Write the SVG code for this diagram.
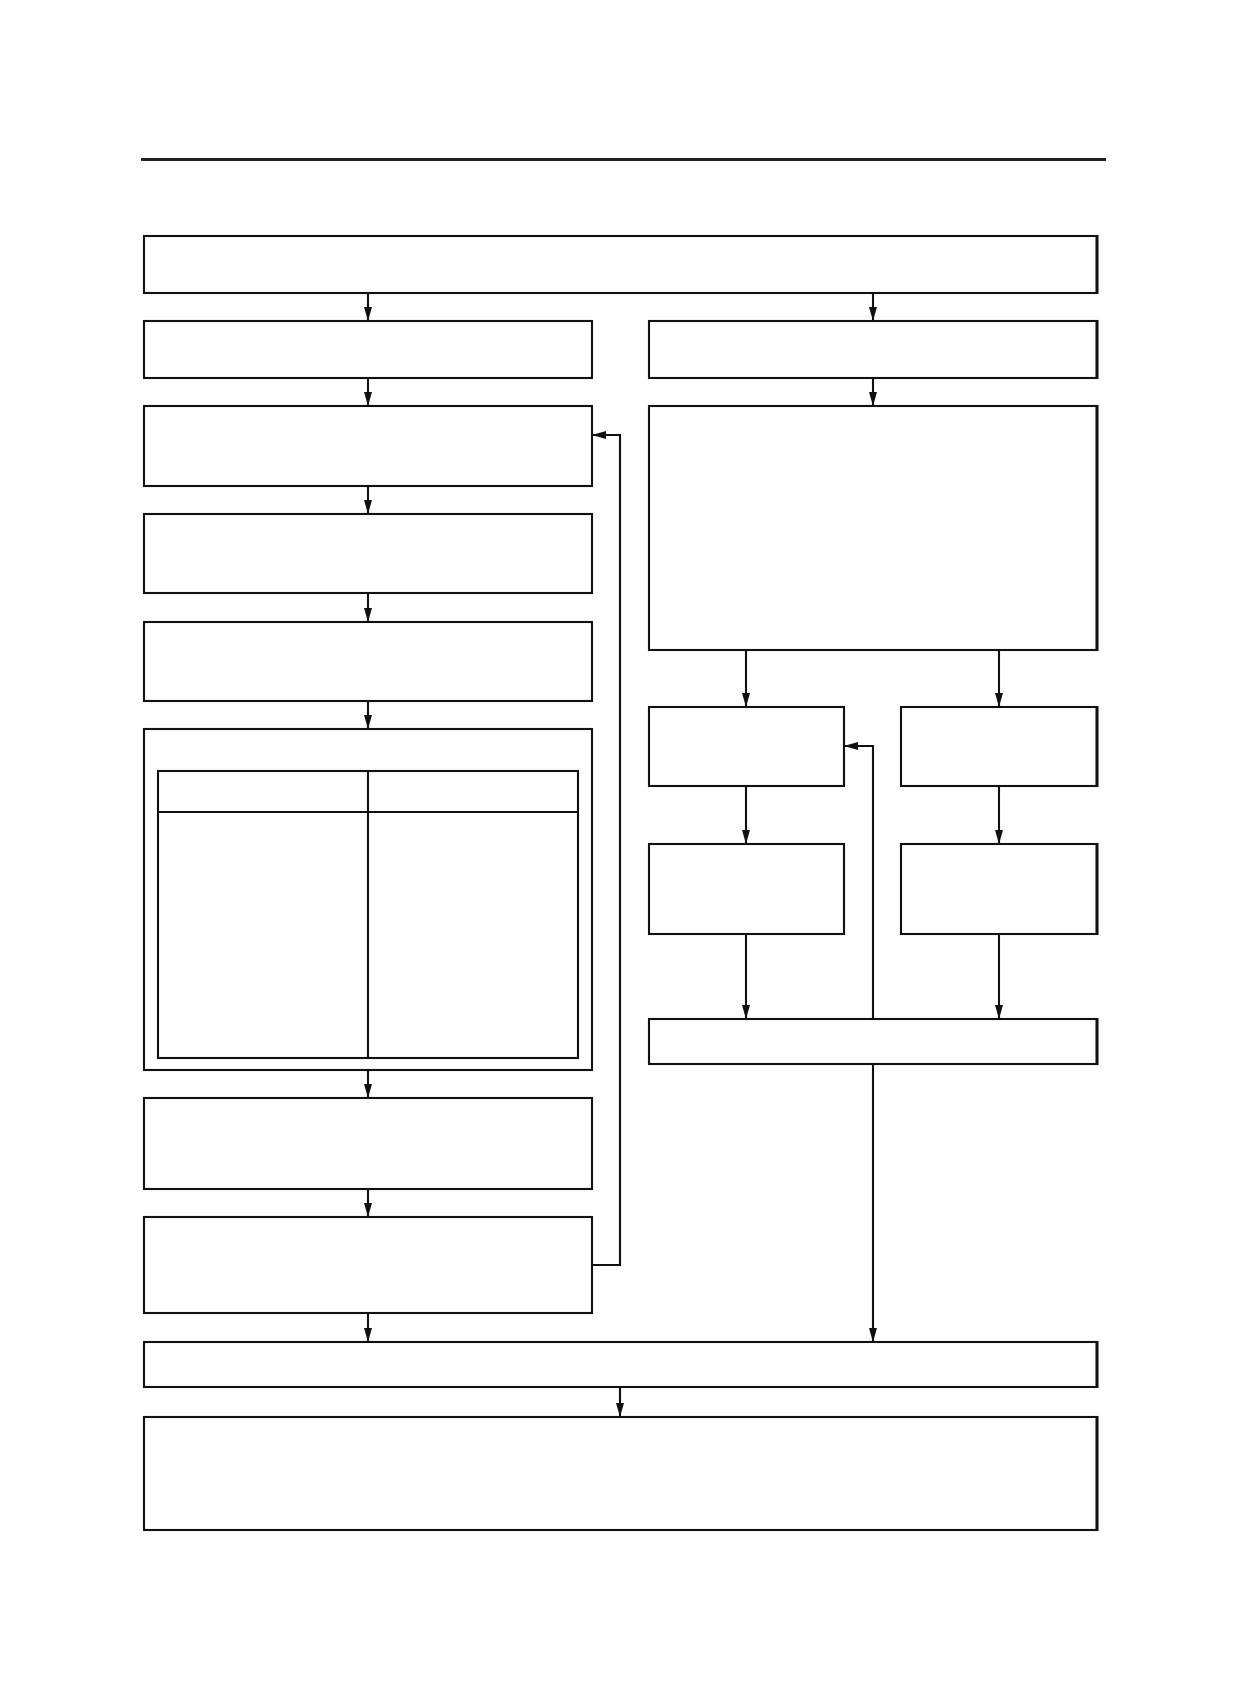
<svg xmlns="http://www.w3.org/2000/svg" width="1247" height="1701" viewBox="0 0 1247 1701">
<style>
.box{fill:#fff;stroke:#111;stroke-width:2.1}
.tbl{fill:none;stroke:#111;stroke-width:2.1}
.conn{fill:none;stroke:#111;stroke-width:2.1}
.edge{stroke:#111;stroke-width:3}
.arr{marker-end:url(#ah)}
</style>
<defs>
<marker id="ah" markerUnits="userSpaceOnUse" markerWidth="16" markerHeight="9" refX="14" refY="4" orient="auto">
<path d="M0,0 L14,4 L0,8 z" fill="#111"/>
</marker>
</defs>
<rect x="0" y="0" width="1247" height="1701" fill="#fff"/>
<line x1="141" y1="159.5" x2="1106" y2="159.5" stroke="#222" stroke-width="3"/>
<g id="n_top"><rect class="box" x="144" y="236" width="953" height="57"/><line class="edge" x1="1097" y1="235" x2="1097" y2="294"/></g>
<g id="n_l2"><rect class="box" x="144" y="321" width="448" height="57"/></g>
<g id="n_r2"><rect class="box" x="649" y="321" width="448" height="57"/><line class="edge" x1="1097" y1="320" x2="1097" y2="379"/></g>
<g id="n_l3"><rect class="box" x="144" y="406" width="448" height="80"/></g>
<g id="n_r3"><rect class="box" x="649" y="406" width="448" height="244"/><line class="edge" x1="1097" y1="405" x2="1097" y2="651"/></g>
<g id="n_l4"><rect class="box" x="144" y="514" width="448" height="79"/></g>
<g id="n_l5"><rect class="box" x="144" y="622" width="448" height="79"/></g>
<g id="n_l6">
<rect class="box" x="144" y="729" width="448" height="341"/>
<rect class="tbl" x="158" y="771" width="420" height="287"/>
<line class="tbl" x1="158" y1="812" x2="578" y2="812"/>
<line class="tbl" x1="368" y1="771" x2="368" y2="1058"/>
</g>
<g id="n_l7"><rect class="box" x="144" y="1098" width="448" height="91"/></g>
<g id="n_l8"><rect class="box" x="144" y="1217" width="448" height="96"/></g>
<g id="n_sl1"><rect class="box" x="649" y="707" width="195" height="79"/></g>
<g id="n_sr1"><rect class="box" x="901" y="707" width="196" height="79"/><line class="edge" x1="1097" y1="706" x2="1097" y2="787"/></g>
<g id="n_sl2"><rect class="box" x="649" y="844" width="195" height="90"/></g>
<g id="n_sr2"><rect class="box" x="901" y="844" width="196" height="90"/><line class="edge" x1="1097" y1="843" x2="1097" y2="935"/></g>
<g id="n_col"><rect class="box" x="649" y="1019" width="448" height="45"/><line class="edge" x1="1097" y1="1018" x2="1097" y2="1065"/></g>
<g id="n_b1"><rect class="box" x="144" y="1342" width="953" height="45"/><line class="edge" x1="1097" y1="1341" x2="1097" y2="1388"/></g>
<g id="n_b2"><rect class="box" x="144" y="1417" width="953" height="113"/><line class="edge" x1="1097" y1="1416" x2="1097" y2="1531"/></g>
<g id="connectors">
<line class="conn arr" x1="368" y1="293" x2="368" y2="321"/>
<line class="conn arr" x1="873" y1="293" x2="873" y2="321"/>
<line class="conn arr" x1="368" y1="378" x2="368" y2="406"/>
<line class="conn arr" x1="873" y1="378" x2="873" y2="406"/>
<line class="conn arr" x1="368" y1="486" x2="368" y2="514"/>
<line class="conn arr" x1="368" y1="593" x2="368" y2="622"/>
<line class="conn arr" x1="368" y1="701" x2="368" y2="729"/>
<line class="conn arr" x1="368" y1="1070" x2="368" y2="1098"/>
<line class="conn arr" x1="368" y1="1189" x2="368" y2="1217"/>
<line class="conn arr" x1="368" y1="1313" x2="368" y2="1342"/>
<polyline class="conn arr" points="592,1265 620,1265 620,435 592,435"/>
<line class="conn arr" x1="746" y1="650" x2="746" y2="707"/>
<line class="conn arr" x1="999" y1="650" x2="999" y2="707"/>
<line class="conn arr" x1="746" y1="786" x2="746" y2="844"/>
<line class="conn arr" x1="999" y1="786" x2="999" y2="844"/>
<line class="conn arr" x1="746" y1="934" x2="746" y2="1019"/>
<line class="conn arr" x1="999" y1="934" x2="999" y2="1019"/>
<polyline class="conn arr" points="873,1019 873,746 844,746"/>
<line class="conn arr" x1="873" y1="1064" x2="873" y2="1342"/>
<line class="conn arr" x1="620" y1="1387" x2="620" y2="1417"/>
</g>
</svg>
